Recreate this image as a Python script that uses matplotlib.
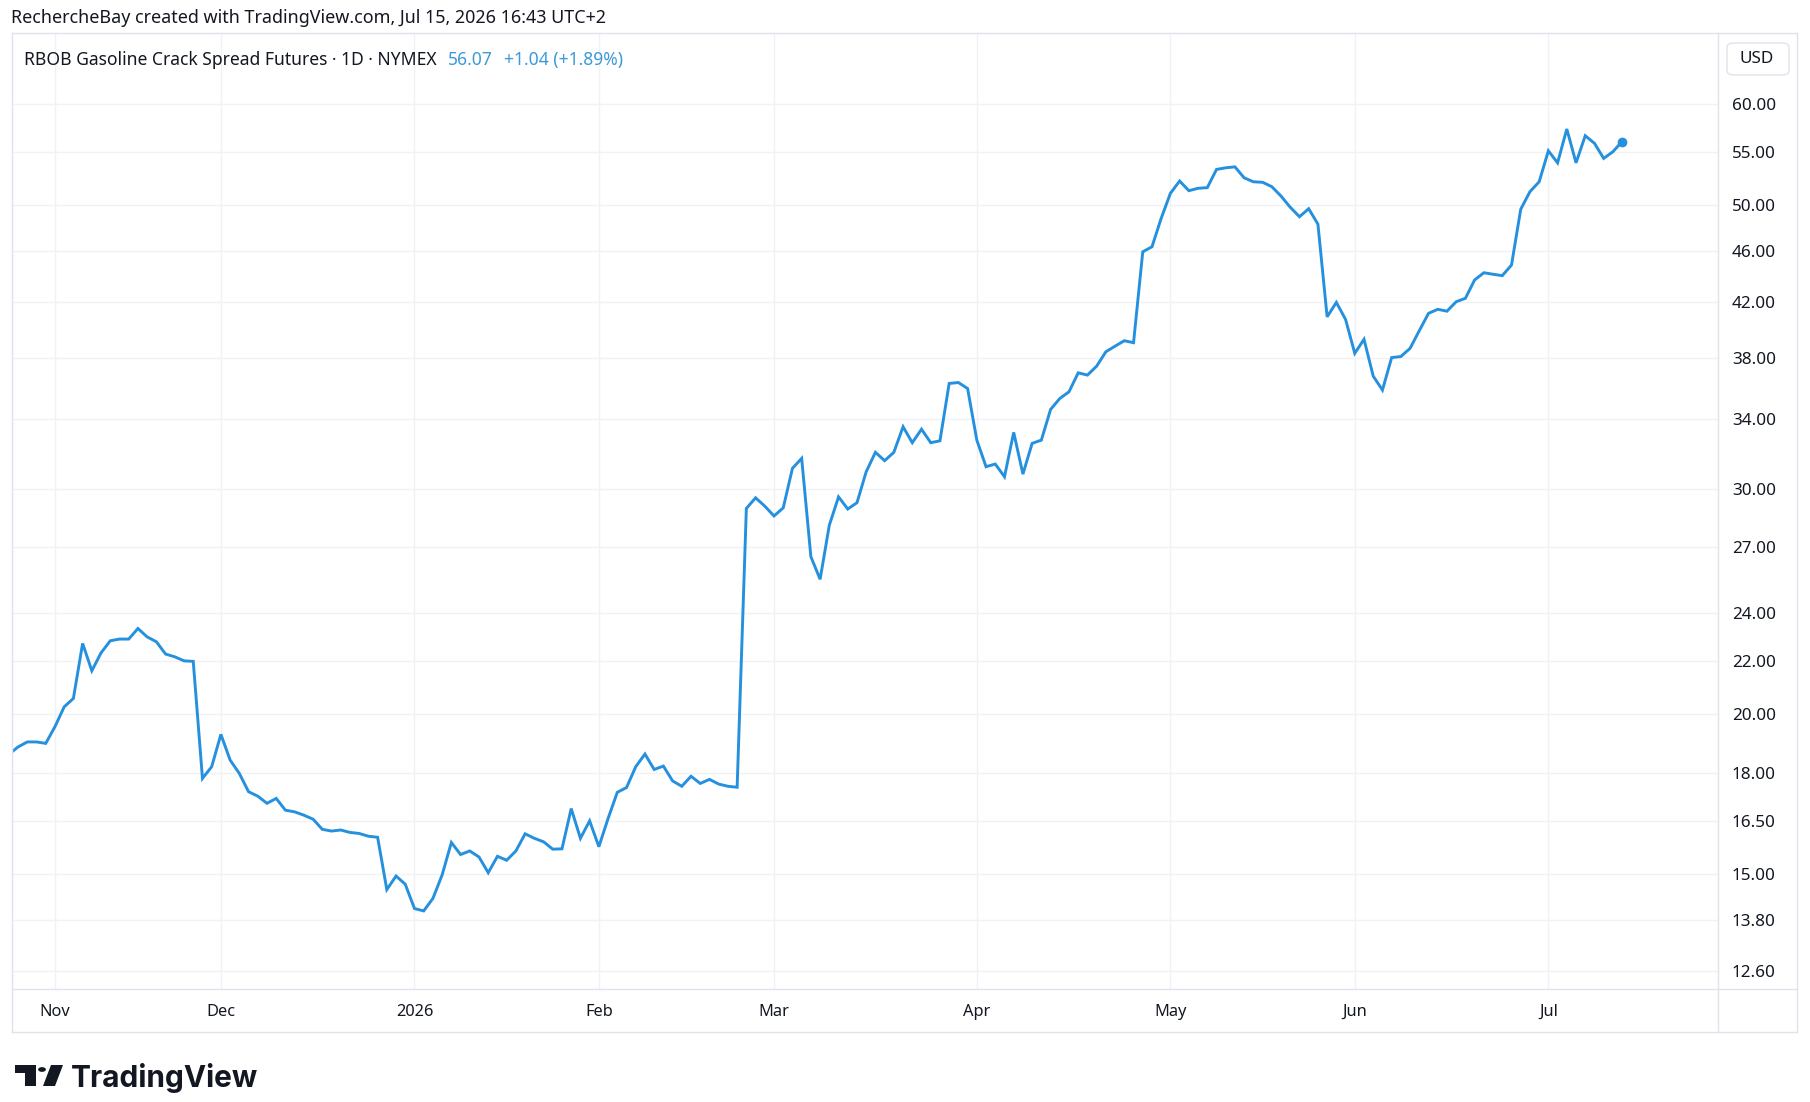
import matplotlib
matplotlib.use("Agg")
import matplotlib.pyplot as plt
import matplotlib.ticker as mticker
from matplotlib.lines import Line2D
from matplotlib.patches import Circle, FancyBboxPatch, Polygon
import numpy as np

# daily closes, one list per calendar month (TradingView bar-index time axis)
oct_2025 = [18.60, 18.85, 19.02, 19.02, 18.97]
nov_2025 = [19.55, 20.26, 20.57, 22.71, 21.62, 22.33, 22.82, 22.89, 22.89, 23.33,
            22.98, 22.78, 22.28, 22.17, 22.01, 21.99, 17.81, 18.19]
dec_2025 = [19.28, 18.41, 17.97, 17.39, 17.25, 17.03, 17.18, 16.82, 16.77, 16.67,
            16.55, 16.25, 16.20, 16.23, 16.16, 16.13, 16.05, 16.02, 14.58, 14.94, 14.72]
jan_2026 = [14.09, 14.03, 14.35, 14.97, 15.87, 15.53, 15.63, 15.46, 15.03, 15.48,
            15.37, 15.63, 16.12, 15.99, 15.89, 15.68, 15.69, 16.87, 15.99, 16.50]
feb_2026 = [15.75, 16.57, 17.37, 17.52, 18.19, 18.61, 18.10, 18.21, 17.73, 17.56,
            17.88, 17.65, 17.78, 17.63, 17.56, 17.53, 28.96, 29.52, 29.08]
mar_2026 = [28.57, 28.99, 31.13, 31.69, 26.55, 25.49, 28.10, 29.57, 28.93, 29.26,
            30.94, 32.04, 31.56, 32.04, 33.55, 32.60, 33.40, 32.60, 32.71, 36.27,
            36.33, 35.94]
apr_2026 = [32.75, 31.22, 31.37, 30.66, 33.21, 30.81, 32.56, 32.75, 34.61, 35.30,
            35.73, 36.97, 36.82, 37.42, 38.40, 38.79, 39.17, 39.03, 45.97, 46.39, 48.83]
may_2026 = [51.08, 52.22, 51.32, 51.54, 51.60, 53.32, 53.48, 53.57, 52.52, 52.15,
            52.10, 51.69, 50.82, 49.81, 48.97, 49.68, 48.32, 40.89, 41.97, 40.70]
jun_2026 = [38.29, 39.27, 36.75, 35.84, 38.00, 38.07, 38.64, 39.89, 41.15, 41.45,
            41.31, 42.02, 42.28, 43.70, 44.27, 44.15, 44.04, 44.89, 49.63, 51.23, 52.15]
jul_2026 = [55.14, 53.96, 57.35, 53.96, 56.66, 55.89, 54.39, 55.05, 56.07]

months = [oct_2025, nov_2025, dec_2025, jan_2026, feb_2026, mar_2026,
          apr_2026, may_2026, jun_2026, jul_2026]
month_labels = ["", "Nov", "Dec", "2026", "Feb", "Mar", "Apr", "May", "Jun", "Jul"]
price_ticks = [12.6, 13.8, 15, 16.5, 18, 20, 22, 24, 27, 30, 34, 38, 42, 46, 50, 55, 60]

last_price = "56.07"
change = "+1.04 (+1.89%)"

LINE = "#2590de"
LEGEND_BLUE = "#3a9bd9"
TEXT = "#131722"
GRID = "#f0f2f5"
FRAME = "#e0e3eb"

plt.rcParams["font.family"] = ["Noto Sans", "DejaVu Sans"]

W, H = 1810, 1102


def fx(p):
    return p / W


def fy(p):
    return 1 - p / H


closes = np.concatenate([np.asarray(m, dtype=float) for m in months])
x = np.arange(len(closes))
month_starts = np.cumsum([0] + [len(m) for m in months[:-1]])

fig = plt.figure(figsize=(W / 100, H / 100), dpi=100)
fig.patch.set_facecolor("white")

ax = fig.add_axes([fx(12), fy(989), (1718 - 12) / W, (989 - 33) / H])
ax.set_yscale("log")
ax.set_xlim(0.34, 185.4)
ax.set_ylim(12.19, 68.17)

ax.plot(x, closes, color=LINE, lw=2.1, solid_joinstyle="miter", zorder=3)
ax.plot(x[-1], closes[-1], "o", color=LINE, ms=6, zorder=4)

# price scale on the right
ax.yaxis.tick_right()
ax.yaxis.set_major_locator(mticker.FixedLocator(price_ticks))
ax.yaxis.set_major_formatter(mticker.FixedFormatter([f"{t:.2f}" for t in price_ticks]))
ax.yaxis.set_minor_locator(mticker.NullLocator())
ax.tick_params(axis="y", length=0, pad=10, labelsize=12.3, labelcolor=TEXT)

# time scale
ticks = [s for s, lab in zip(month_starts, month_labels) if lab]
labels = [lab for lab in month_labels if lab]
ax.set_xticks(ticks)
ax.set_xticklabels(labels)
ax.tick_params(axis="x", length=0, pad=11, labelsize=11.8, labelcolor=TEXT)
for t in ax.get_xticklabels():
    if t.get_text() == "2026":
        t.set_fontweight("bold")

ax.grid(True, color=GRID, lw=1.0, zorder=0)
for s in ax.spines.values():
    s.set_visible(False)

# chart frame: outer box, price-scale divider, time-scale divider
frame_lines = [
    ((12, 1797), (33, 33)),
    ((12, 1797), (1032, 1032)),
    ((12, 12), (33, 1032)),
    ((1797, 1797), (33, 1032)),
    ((1718, 1718), (33, 1032)),
    ((12, 1797), (989, 989)),
]
for xs, ys in frame_lines:
    fig.add_artist(Line2D([fx(v) for v in xs], [fy(v) for v in ys],
                          color=FRAME, lw=1.0, transform=fig.transFigure))

# USD badge
fig.add_artist(FancyBboxPatch((fx(1727), fy(75)), fx(62), (75 - 43) / H,
                              boxstyle="round,pad=0,rounding_size=0.004",
                              transform=fig.transFigure, fc="white",
                              ec=FRAME, lw=1.0))
fig.text(fx(1757), fy(59), "USD", ha="center", va="center",
         fontsize=12.3, color=TEXT)

# header
fig.text(fx(11), fy(18), "RechercheBay created with TradingView.com, Jul 15, 2026 16:43 UTC+2",
         ha="left", va="center", fontsize=12.9, color=TEXT)

# legend row inside the pane
fig.canvas.draw()
renderer = fig.canvas.get_renderer()
t1 = fig.text(fx(24), fy(60), "RBOB Gasoline Crack Spread Futures \u00b7 1D \u00b7 NYMEX",
              ha="left", va="center", fontsize=12.6, color=TEXT)
bb = t1.get_window_extent(renderer)
t2 = fig.text(bb.x1 / W + fx(11), fy(60), last_price, ha="left", va="center",
              fontsize=12.6, color=LEGEND_BLUE)
bb = t2.get_window_extent(renderer)
fig.text(bb.x1 / W + fx(11), fy(60), change, ha="left", va="center",
         fontsize=12.6, color=LEGEND_BLUE)

# TradingView logo
logo_t = [(15, 1065), (36, 1065), (36, 1086), (25, 1086), (25, 1073), (15, 1073)]
logo_slash = [(51, 1065), (63, 1065), (55, 1086), (43, 1086)]
for pts in (logo_t, logo_slash):
    fig.add_artist(Polygon([(fx(a), fy(b)) for a, b in pts], closed=True,
                           transform=fig.transFigure, fc=TEXT, ec="none"))
fig.add_artist(Circle((fx(42), fy(1069.5)), 3.9 / W, transform=fig.transFigure,
                      fc=TEXT, ec="none"))
fig.text(fx(71), fy(1078), "TradingView", ha="left", va="center", fontsize=21.5,
         fontweight="bold", color=TEXT, family=["Inter", "DejaVu Sans"])

fig.savefig("out.png", dpi=100, facecolor="white")
